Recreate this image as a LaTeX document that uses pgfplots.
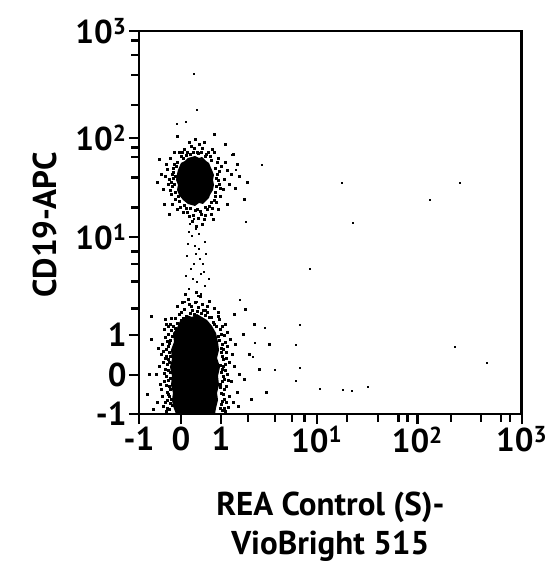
\documentclass[border=0pt]{standalone}
\usepackage{fontspec}
\setmainfont{PT Sans}
\usepackage{pgfplots}
\pgfplotsset{compat=1.18}
\begin{document}
\begin{tikzpicture}
\useasboundingbox (-139pt,-166pt) rectangle (413pt,414pt);
\begin{axis}[
  at={(0,0)}, anchor=south west,
  scale only axis, width=382.7pt, height=383pt,
  xmin=0, xmax=382.7, ymin=0, ymax=383,
  axis line style={line width=2.8pt},
  tick align=outside, tick pos=left,
  major tick length=10pt, minor tick length=7.5pt,
  every tick/.style={line width=2.4pt, black},
  /pgf/number format/assume math mode=true,
  tick label style={font=\fontsize{33}{36}\selectfont\bfseries},
  xtick={0,42,82,177.7,278.3,382.7},
  xticklabels={-1,0,1,10\textsuperscript{1},10\textsuperscript{2},10\textsuperscript{3}},
  minor xtick={108.7,136,152.7,165.3,207.7,238.7,259.3,268.3,311.7,341.7,361.7,371},
  ytick={0,39,79,176.7,275.7,383},
  yticklabels={-1,0,1,10\textsuperscript{1},10\textsuperscript{2},10\textsuperscript{3}},
  minor ytick={105.7,132.3,149.7,162.3,206.3,236.3,256.7,266.3,309,339,359,373.3},
  xticklabel style={yshift=1pt},
  yticklabel style={xshift=1pt},
  xlabel={REA Control (S)-\\VioBright 515},
  xlabel style={font=\fontsize{33}{39}\selectfont\bfseries, align=center, at={(axis description cs:0.5,-0.295)}, anchor=center},
  ylabel={CD19-APC},
  ylabel style={font=\fontsize{33}{36}\selectfont\bfseries, at={(axis description cs:-0.2456,0.4935)}, anchor=center},
  clip=true,
]
% dense cores
\addplot[fill=black, draw=none] coordinates {
(37,0)(34,8)(33,14)(34,21)(32,29)(33,38)(31,47)(33,55)(32,64)(35,72)(34,81)(38,86)(41,93)(46,96)(48,99)(53,97)(58,100)(63,97)(68,94)(73,88)(77,81)(79,72)(80,64)(78,56)(81,47)(79,38)(80,29)(78,21)(79,14)(77,6)(76,0)};
\addplot[fill=black, draw=none] coordinates {
(49,210)(44,214)(40,219)(38,224)(39,229)(37,234)(38,240)(39,244)(42,251)(46,253)(49,256)(56,258)(60,256)(63,257)(67,253)(70,251)(72,246)(73,244)(75,239)(74,234)(75,229)(74,224)(71,219)(70,216)(64,210)(60,211)(56,208)};
% lower cluster halo
\addplot[only marks, mark=square*, mark size=0.75pt, black] coordinates {
(18,12)(21,30)(24,8)(26,45)(22,60)(28,22)(30,71)(25,85)(27,38)(29,55)(20,48)(23,18)(31,90)(27,3)(19,66)(32,15)(29,34)(26,77)(24,52)(30,62)(28,6)(17,40)(22,25)(31,42)(33,78)(26,95)(29,88)(23,70)(31,25)(25,33)
(82,10)(85,25)(88,40)(84,55)(90,18)(83,70)(87,62)(92,33)(81,85)(86,90)(95,48)(83,4)(89,7)(91,75)(84,38)(86,50)(98,22)(82,62)(93,60)(80,95)(88,82)(94,12)(85,15)(100,40)(81,30)(87,28)(96,70)(90,52)(83,45)(99,8)
(40,100)(45,105)(52,108)(58,103)(63,110)(68,102)(72,97)(36,96)(49,115)(55,100)(61,118)(75,106)(43,112)(66,99)(57,122)(47,98)(70,113)(53,104)(38,108)(79,102)(60,95)(64,104)(42,94)(50,110)(74,92)(34,88)(77,88)(56,112)(46,120)(68,108)
(10,40)(12,75)(8,20)(105,35)(110,60)(112,15)(14,5)(104,80)(120,45)(130,70)(127,22)(115,90)(106,105)(95,100)(12,98)
(28,50)(30,18)(27,65)(84,20)(86,72)(83,88)(29,80)(85,35)(32,96)(79,98)
(30,5)(31,11)(29,20)(30,28)(31,36)(29,44)(30,52)(31,58)(29,68)(31,74)(32,84)(33,9)(34,40)(28,14)(27,58)
(81,6)(83,13)(82,21)(81,27)(83,33)(82,42)(81,49)(83,58)(82,66)(80,74)(79,78)(82,80)(84,48)(85,6)(84,65)
(38,91)(44,96)(51,101)(62,101)(70,97)(75,90)(36,86)(42,102)(66,104)(59,107)
(26,12)(27,29)(25,41)(26,56)(28,73)(24,63)(27,90)(87,12)(86,44)(87,56)(85,79)(88,68)(89,34)(86,3)
};
% upper cluster halo
\addplot[only marks, mark=square*, mark size=0.75pt, black] coordinates {
(30,235)(33,228)(28,245)(35,250)(32,220)(26,238)(34,242)(31,256)(36,215)(29,230)(24,225)(35,262)(38,205)(33,210)(27,250)
(78,240)(80,230)(76,222)(82,248)(79,256)(85,235)(77,212)(81,218)(88,244)(75,262)(84,225)(90,230)(79,205)(86,252)(92,240)
(45,265)(52,268)(58,262)(63,266)(50,272)(67,260)(42,258)(56,275)(71,258)(48,262)(60,270)(40,262)(65,272)(54,262)(73,265)
(44,202)(50,198)(56,204)(62,200)(68,205)(72,200)(47,206)(53,193)(59,196)(65,195)(41,207)(70,208)(57,188)(74,195)(63,190)
(22,240)(18,232)(96,226)(100,238)(105,215)(98,250)(25,210)(20,255)(94,260)(86,270)(38,278)(75,280)(108,232)(88,210)(30,200)
(35,230)(36,238)(36,222)(34,246)(38,252)(44,256)(51,260)(59,261)(66,258)(72,254)(76,246)(77,236)(77,228)(76,218)(72,212)(66,207)(58,205)(51,206)(45,209)(40,213)(34,236)(39,218)(73,206)(78,252)(47,259)(62,262)(37,248)(75,214)
(32,232)(33,240)(31,224)(80,243)(81,226)(79,234)(43,262)(55,266)(69,262)(48,202)(61,203)(66,199)(54,199)
};
% stream between clusters
\addplot[only marks, mark=square*, mark size=0.65pt, black] coordinates {
(50,125)(58,132)(62,140)(55,150)(48,158)(60,165)(66,172)(53,178)(57,185)(63,190)(52,145)(59,118)(66,128)(47,138)(61,155)(56,168)(50,182)(64,150)(58,112)(54,135)(62,120)(49,170)(67,160)(55,195)(60,180)(46,112)(65,142)(57,160)(51,190)(70,135)
};
% sparse events
\addplot[only marks, mark=square*, mark size=0.6pt, black] coordinates {
(55,340)(58,304)(47,292)(38,290)(56,275)(321,231)(291,214)(203,231)(123,249)(107,192)(214,191)(171,145)(126,86)(161,89)(157,69)(116,71)(181,25)(204,24)(213,23)(229,27)(161,46)(157,33)(348,51)(316,67)(114,57)(136,44)(101,114)(93,259)(97,244)
};
\end{axis}
\end{tikzpicture}
\end{document}
